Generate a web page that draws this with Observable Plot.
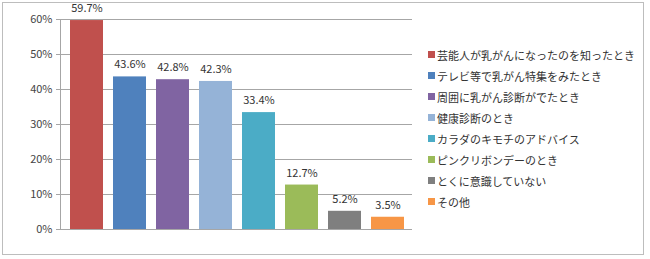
<!DOCTYPE html>
<html><head><meta charset="utf-8">
<script src="https://cdn.jsdelivr.net/npm/d3@7"></script>
<script src="https://cdn.jsdelivr.net/npm/@observablehq/plot@0.6"></script>
<style>
body{margin:0;background:#fff;font-family:"Noto Sans CJK JP",sans-serif;}
#wrap{position:relative;width:650px;height:259px;}
#frame{position:absolute;left:2px;top:2px;width:642px;height:253px;border:1px solid #bdbdbd;box-sizing:border-box;pointer-events:none;}
#legend{position:absolute;left:428px;top:44px;font-size:11px;color:#333;}
#legend div{height:21px;line-height:18px;white-space:nowrap;display:flex;align-items:center;}
#legend span.sw{display:inline-block;width:7px;height:7px;margin-right:2px;}
</style></head>
<body><div id="wrap"><div id="frame"></div><div id="legend"></div></div>
<script>
const categories = ["芸能人が乳がんになったのを知ったとき","テレビ等で乳がん特集をみたとき","周囲に乳がん診断がでたとき","健康診断のとき","カラダのキモチのアドバイス","ピンクリボンデーのとき","とくに意識していない","その他"];
const values = [59.7, 43.6, 42.8, 42.3, 33.4, 12.7, 5.2, 3.5];
const colors = ["#C0504D","#4F81BD","#8064A2","#95B3D7","#4BACC6","#9BBB59","#7F7F7F","#F79646"];
const yTicks = [0,10,20,30,40,50,60];

const data = categories.map((c,i)=>({c, v: values[i], col: colors[i]}));

const chart = Plot.plot({
  width: 650, height: 259,
  marginLeft: 60, marginRight: 238, marginTop: 19, marginBottom: 30,
  style: {fontFamily: "'Noto Sans CJK JP', sans-serif", fontSize: "11px", background: "transparent"},
  x: {domain: categories, range: [64, 410], paddingInner: 0.24, paddingOuter: 0.12, axis: null},
  y: {domain: [0, 60], axis: null},
  marks: [
    Plot.ruleY(yTicks, {stroke: "#a6a6a6", strokeWidth: 1}),
    Plot.frame({anchor: "left", stroke: "#a6a6a6"}),
    Plot.barY(data, {x: "c", y: "v", fill: "col"}),
    Plot.text(data, {x: "c", y: "v", text: d => d.v.toFixed(1) + "%", dy: -12, fill: "#333", fontSize: 11}),
    Plot.axisY(yTicks, {anchor: "left", label: null, tickSize: 4, tickPadding: 4, tickFormat: d => d + "%", stroke: "#a6a6a6", fill: "#444", fontSize: 11})
  ]
});
document.getElementById("wrap").prepend(chart);
chart.style.position = "absolute"; chart.style.left = "0"; chart.style.top = "0";

const lg = document.getElementById("legend");
categories.forEach((c,i)=>{
  const row = document.createElement("div");
  const sw = document.createElement("span"); sw.className = "sw"; sw.style.background = colors[i];
  row.appendChild(sw);
  row.appendChild(document.createTextNode(c));
  lg.appendChild(row);
});
</script></body></html>
